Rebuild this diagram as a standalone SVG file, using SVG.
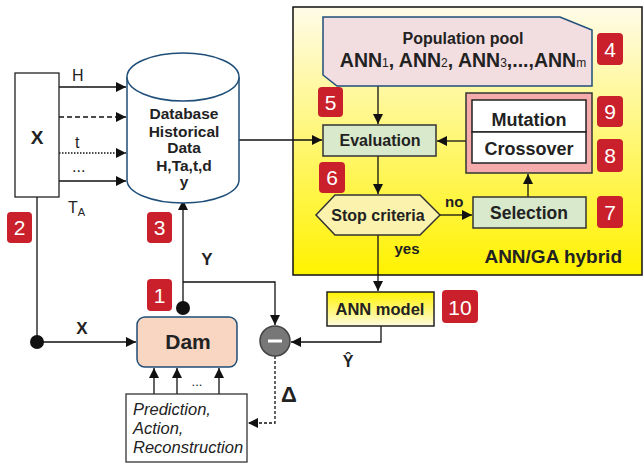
<svg xmlns="http://www.w3.org/2000/svg" width="643" height="465" viewBox="0 0 643 465">
<defs>
<linearGradient id="gy" x1="0" y1="0" x2="0" y2="1"><stop offset="0" stop-color="#fffbe8"/><stop offset="1" stop-color="#fff200"/></linearGradient>
<linearGradient id="gm" x1="0" y1="0" x2="0" y2="1"><stop offset="0" stop-color="#fff200"/><stop offset="1" stop-color="#fffbe0"/></linearGradient>
<marker id="ah" viewBox="0 0 10 10" refX="10" refY="5" markerWidth="10" markerHeight="10" markerUnits="userSpaceOnUse" orient="auto"><path d="M0,0 L10,5 L0,10 z" fill="#111"/></marker>
<style>
.t{font-family:"Liberation Sans",Arial,sans-serif;fill:#222;font-weight:bold}
.n{font-family:"Liberation Sans",Arial,sans-serif;fill:#222;font-weight:normal}
.c{stroke:#111;stroke-width:1.3;fill:none}
.b{fill:#c9202b}
.bt{font-family:"Liberation Sans",Arial,sans-serif;fill:#fff;font-size:21px}
.g{fill:#d9e9cb;stroke:#333;stroke-width:1.5}
</style>
</defs>
<rect id="panel" x="293" y="7" width="349" height="268" fill="url(#gy)" stroke="#111" stroke-width="1.5"/>
<g id="connectors">
<line class="c" x1="59" y1="87" x2="126" y2="87" marker-end="url(#ah)"/>
<line class="c" x1="59" y1="117" x2="126" y2="117" stroke-dasharray="5,3" marker-end="url(#ah)"/>
<line class="c" x1="59" y1="153" x2="126" y2="153" stroke-dasharray="1.5,1.5" marker-end="url(#ah)"/>
<line class="c" x1="59" y1="181" x2="126" y2="181" marker-end="url(#ah)"/>
<line class="c" x1="239" y1="140" x2="322" y2="140" marker-end="url(#ah)"/>
<line class="c" x1="378" y1="86" x2="378" y2="124" marker-end="url(#ah)"/>
<line class="c" x1="466" y1="141" x2="437" y2="141" marker-end="url(#ah)"/>
<line class="c" x1="378" y1="156" x2="378" y2="194" marker-end="url(#ah)"/>
<line class="c" x1="440" y1="215" x2="472" y2="215" marker-end="url(#ah)"/>
<line class="c" x1="528" y1="197" x2="528" y2="174" marker-end="url(#ah)"/>
<line class="c" x1="378" y1="235" x2="378" y2="291" marker-end="url(#ah)"/>
<polyline class="c" points="381,326 381,342 291,342" marker-end="url(#ah)"/>
<line class="c" x1="183" y1="308" x2="183" y2="200" marker-end="url(#ah)"/>
<polyline class="c" points="183,282 275,282 275,325" marker-end="url(#ah)"/>
<polyline class="c" points="37,197 37,342 136,342" marker-end="url(#ah)"/>
<line class="c" x1="154" y1="394" x2="154" y2="368" marker-end="url(#ah)"/>
<line class="c" x1="177" y1="394" x2="177" y2="368" marker-end="url(#ah)"/>
<line class="c" x1="219" y1="394" x2="219" y2="368" marker-end="url(#ah)"/>
<polyline class="c" points="275,356 275,423 248,423" stroke-dasharray="3,2" marker-end="url(#ah)"/>
<circle cx="183" cy="308" r="7" fill="#111"/>
<circle cx="37" cy="342" r="7" fill="#111"/>
</g>
<g id="labels">
<text class="n" x="72" y="81" font-size="16">H</text>
<text class="n" x="75" y="148" font-size="16">t</text>
<text class="n" x="72" y="172" font-size="16">...</text>
<text class="n" x="68" y="213" font-size="16">T<tspan font-size="11" dy="3">A</tspan></text>
<text class="t" x="207" y="265" font-size="17" text-anchor="middle">Y</text>
<text class="t" x="82" y="334" font-size="17" text-anchor="middle">X</text>
<text class="n" x="197" y="386" font-size="13" text-anchor="middle">...</text>
<text class="t" x="289" y="402" font-size="22" text-anchor="middle">Δ</text>
<text class="t" x="348" y="367" font-size="16" text-anchor="middle">Ŷ</text>
<text class="t" x="445" y="207" font-size="15">no</text>
<text class="t" x="407" y="254" font-size="15" text-anchor="middle">yes</text>
<text class="t" x="622" y="263" font-size="19" text-anchor="end">ANN/GA hybrid</text>
</g>
<g id="xbox"><rect x="15" y="73" width="44" height="124" fill="#fff" stroke="#222" stroke-width="1.3"/><text class="t" x="37" y="144" font-size="19" text-anchor="middle">X</text></g>
<g id="db">
<path d="M127,77 L127,180 A56,23 0 0 0 239,180 L239,77" fill="#fff" stroke="#1f4e79" stroke-width="1.5"/>
<ellipse cx="183" cy="77" rx="56" ry="24" fill="#fff" stroke="#1f4e79" stroke-width="1.5"/>
<text class="t" font-size="15.5" text-anchor="middle"><tspan x="184" y="119">Database</tspan><tspan x="184" y="137">Historical</tspan><tspan x="184" y="153">Data</tspan><tspan x="184" y="171">H,Ta,t,d</tspan><tspan x="184" y="187">y</tspan></text>
</g>
<g id="pool">
<path d="M323,17 L560,17 L592,30 L592,86 L337,86 L323,75 z" fill="#f2dde0" stroke="#1f4e79" stroke-width="1.5"/>
<text class="t" x="463" y="44" font-size="16" text-anchor="middle">Population pool</text>
<text class="t" x="463" y="67" font-size="19.5" text-anchor="middle">ANN<tspan font-size="12" font-weight="normal">1</tspan>, ANN<tspan font-size="12" font-weight="normal">2</tspan>, ANN<tspan font-size="12" font-weight="normal">3</tspan>,...,ANN<tspan font-size="12" font-weight="normal">m</tspan></text>
</g>
<g id="evaluation"><rect class="g" x="323" y="125" width="113" height="31"/><text class="t" x="380" y="146" font-size="16" text-anchor="middle">Evaluation</text></g>
<g id="ops">
<rect x="466" y="93" width="126" height="80" fill="#f5abab" stroke="#333" stroke-width="1.5"/>
<rect x="472" y="100" width="114" height="32" fill="#fff" stroke="#222" stroke-width="1.5"/>
<rect x="472" y="132" width="114" height="31" fill="#fff" stroke="#222" stroke-width="1.5"/>
<text class="t" x="529" y="126" font-size="18" text-anchor="middle">Mutation</text>
<text class="t" x="529" y="155" font-size="18" text-anchor="middle">Crossover</text>
</g>
<g id="stop"><path d="M316,215 L335,195 L420,195 L440,215 L420,235 L335,235 z" fill="#fbf3ad" stroke="#333" stroke-width="1.5"/><text class="t" x="378" y="221" font-size="16" text-anchor="middle">Stop criteria</text></g>
<g id="selection"><rect class="g" x="473" y="197" width="113" height="31"/><text class="t" x="529" y="219" font-size="17.5" text-anchor="middle">Selection</text></g>
<g id="annmodel"><rect x="327" y="292" width="107" height="34" fill="url(#gm)" stroke="#222" stroke-width="1.5"/><text class="t" x="380" y="315" font-size="16.5" text-anchor="middle">ANN model</text></g>
<g id="minus"><circle cx="275" cy="341" r="15" fill="#777" stroke="#444" stroke-width="1.5"/><rect x="268" y="339.5" width="14" height="3" fill="#fff"/></g>
<g id="dam"><rect x="137" y="317" width="100" height="50" rx="8" fill="#f9d6c2" stroke="#1f4e79" stroke-width="1.5"/><text class="t" x="188" y="349" font-size="21" text-anchor="middle">Dam</text></g>
<g id="pred"><rect x="126" y="394" width="121" height="68" fill="#fff" stroke="#333" stroke-width="1.3"/><text font-family="Liberation Sans,Arial,sans-serif" font-style="italic" font-size="16.5" fill="#222"><tspan x="133" y="415">Prediction,</tspan><tspan x="133" y="434">Action,</tspan><tspan x="133" y="453">Reconstruction</tspan></text></g>
<g id="badges">
<rect class="b" x="147" y="279" width="25" height="32" rx="4"/><text class="bt" x="159.5" y="303" text-anchor="middle">1</text>
<rect class="b" x="7" y="212" width="25" height="31" rx="4"/><text class="bt" x="19.5" y="235" text-anchor="middle">2</text>
<rect class="b" x="147" y="212" width="25" height="31" rx="4"/><text class="bt" x="159.5" y="235" text-anchor="middle">3</text>
<rect class="b" x="597" y="33" width="26" height="32" rx="4"/><text class="bt" x="610" y="57" text-anchor="middle">4</text>
<rect class="b" x="318" y="87" width="25" height="30" rx="4"/><text class="bt" x="330.5" y="110" text-anchor="middle">5</text>
<rect class="b" x="319" y="162" width="26" height="31" rx="4"/><text class="bt" x="332" y="185" text-anchor="middle">6</text>
<rect class="b" x="597" y="196" width="26" height="32" rx="4"/><text class="bt" x="610" y="220" text-anchor="middle">7</text>
<rect class="b" x="597" y="139" width="26" height="33" rx="4"/><text class="bt" x="610" y="163" text-anchor="middle">8</text>
<rect class="b" x="597" y="96" width="26" height="31" rx="4"/><text class="bt" x="610" y="119" text-anchor="middle">9</text>
<rect class="b" x="442" y="290" width="36" height="33" rx="4"/><text class="bt" x="460" y="315" font-size="23" text-anchor="middle">10</text>
</g>
</svg>
